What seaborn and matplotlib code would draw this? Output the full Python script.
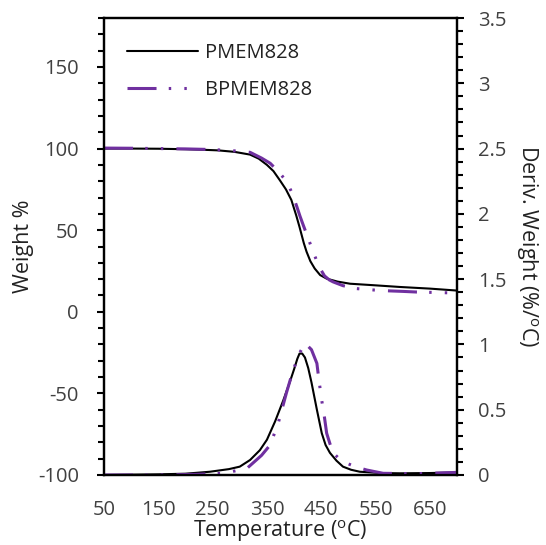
import matplotlib
matplotlib.use("Agg")
import matplotlib.pyplot as plt
import seaborn as sns
import pandas as pd
from matplotlib.ticker import MultipleLocator, FixedLocator
from matplotlib.lines import Line2D

# ---- data ----
series_names = ["PMEM828", "BPMEM828"]

T_pm_w = [50, 100, 150, 200, 230, 260, 290, 319, 335, 350, 362, 374, 385, 395, 404, 410, 414, 418, 423, 430, 438, 448, 460, 480, 503, 550, 595, 650, 700]
W_pm = [100, 100, 99.9, 99.6, 99.3, 98.9, 98.0, 96.3, 93.8, 90, 86.2, 80.5, 75, 68.5, 59, 52, 47, 42, 36.8, 31, 26.5, 22.5, 20.3, 18.5, 17.2, 16.2, 15.2, 14.2, 13]

T_bp_w = [50, 100, 150, 200, 250, 290, 319, 340, 356, 371, 386, 396, 405, 411, 417, 426, 435, 442, 448, 456, 465, 472, 490, 515, 560, 600, 626, 675, 700]
W_bp = [100.3, 100.2, 100, 99.8, 99.4, 98.6, 97.7, 94.2, 91, 86, 80, 73, 64.5, 58.5, 53, 45, 36.8, 31, 26.5, 22, 19.5, 18.3, 16, 14.2, 13, 12.5, 12.1, 11.7, 11.5]

T_pm_d = [50, 150, 200, 245, 280, 300, 319, 337, 350, 365, 380, 392, 400, 406, 410, 415, 420, 426, 432, 442, 451, 458, 466, 478, 490, 505, 521, 560, 595, 650, 700]
D_pm = [0.0, 0.005, 0.01, 0.025, 0.045, 0.064, 0.115, 0.19, 0.27, 0.41, 0.57, 0.71, 0.81, 0.89, 0.93, 0.93, 0.90, 0.82, 0.71, 0.50, 0.32, 0.23, 0.17, 0.11, 0.064, 0.04, 0.025, 0.015, 0.013, 0.015, 0.02]

T_bp_d = [50, 150, 220, 270, 313, 340, 356, 371, 386, 398, 411, 420, 432, 442, 446, 451, 456, 460, 466, 472, 484, 497, 515, 534, 564, 625, 700]
D_bp = [0.0, 0.0, 0.005, 0.013, 0.05, 0.15, 0.23, 0.40, 0.63, 0.80, 0.94, 1.01, 0.96, 0.855, 0.72, 0.57, 0.44, 0.32, 0.24, 0.17, 0.12, 0.09, 0.06, 0.038, 0.013, 0.01, 0.02]

x_ticks = [50, 150, 250, 350, 450, 550, 650]
y2_ticks = [0, 0.5, 1, 1.5, 2, 2.5, 3, 3.5]
y2_labels = ["0", "0.5", "1", "1.5", "2", "2.5", "3", "3.5"]
# ------------------------------------

sns.set_theme(style="white")
plt.rcParams["font.family"] = ["Open Sans", "DejaVu Sans"]
plt.rcParams["mathtext.fontset"] = "custom"
plt.rcParams["mathtext.rm"] = "Open Sans"
plt.rcParams["mathtext.it"] = "Open Sans"
plt.rcParams["axes.unicode_minus"] = False

df_w = pd.concat([
    pd.DataFrame({"T": T_pm_w, "val": W_pm, "Sample": series_names[0]}),
    pd.DataFrame({"T": T_bp_w, "val": W_bp, "Sample": series_names[1]}),
], ignore_index=True)
df_d = pd.concat([
    pd.DataFrame({"T": T_pm_d, "val": D_pm, "Sample": series_names[0]}),
    pd.DataFrame({"T": T_bp_d, "val": D_bp, "Sample": series_names[1]}),
], ignore_index=True)

colors = {"PMEM828": "#000000", "BPMEM828": "#7030A0"}
dash_pat = (9.5, 4.0, 0.8, 4.3, 0.8, 4.3)
dashes = {"PMEM828": "", "BPMEM828": dash_pat}
widths = {"PMEM828": 1.5, "BPMEM828": 2.2}

fig = plt.figure(figsize=(5.46, 5.45), dpi=100)
ax = fig.add_axes([104/546, 1-475/545, (457-104)/546, (475-18)/545])
ax2 = ax.twinx()

for name in series_names:
    sub = df_w[df_w["Sample"] == name]
    sns.lineplot(data=sub, x="T", y="val", ax=ax, color=colors[name], estimator=None,
                 sort=False, lw=widths[name], legend=False)
    sub = df_d[df_d["Sample"] == name]
    sns.lineplot(data=sub, x="T", y="val", ax=ax2, color=colors[name], estimator=None,
                 sort=False, lw=widths[name], legend=False)

for a in (ax, ax2):
    for ln, name in zip(a.get_lines(), series_names):
        ln.set_solid_joinstyle("round")
        ln.set_dash_joinstyle("round")
        if dashes[name]:
            ln.set_dashes(dashes[name])

ax.set_xlim(50, 700)
ax.set_ylim(-100, 180)
ax2.set_ylim(0, 3.5)

ax.xaxis.set_major_locator(FixedLocator(x_ticks))
ax.xaxis.set_minor_locator(FixedLocator([100, 200, 300, 400, 500, 600, 700]))
ax.yaxis.set_major_locator(MultipleLocator(50))
ax.yaxis.set_minor_locator(MultipleLocator(10))
ax2.set_yticks(y2_ticks)
ax2.set_yticklabels(y2_labels)
ax2.yaxis.set_minor_locator(MultipleLocator(0.1))

tick_col = "#404040"
for a in (ax, ax2):
    a.tick_params(axis="both", which="major", direction="out", length=5, width=1.5,
                  color="black", labelsize=14.5, labelcolor=tick_col)
    a.tick_params(axis="both", which="minor", direction="out", length=4, width=1.5, color="black")
    for s in a.spines.values():
        s.set_color("black")
        s.set_linewidth(1.6)
ax.tick_params(axis="x", which="major", pad=13)
ax.tick_params(axis="y", which="major", pad=13)
ax2.tick_params(axis="y", which="major", pad=10)
ax.grid(False)
ax2.grid(False)

lab_col = "#222222"
ax.set_xlabel("Temperature ($^{\\mathrm{o}}$C)", fontsize=15.5, color=lab_col, labelpad=-1)
ax.set_ylabel("Weight %", fontsize=15.5, color=lab_col, labelpad=3)
ax2.set_ylabel("Deriv. Weight (%/$^{\\mathrm{o}}$C)", fontsize=15.5, color=lab_col,
               rotation=270, labelpad=24)

handles = [Line2D([], [], color=colors["PMEM828"], lw=widths["PMEM828"]),
           Line2D([], [], color=colors["BPMEM828"], lw=widths["BPMEM828"], dashes=dash_pat)]
ax.legend(handles, series_names, loc="upper left", frameon=False, fontsize=14.5,
          handlelength=3.5, labelspacing=0.85, handletextpad=0.35,
          bbox_to_anchor=(0.015, 0.985), labelcolor=lab_col)

fig.savefig("out.png", dpi=100)
